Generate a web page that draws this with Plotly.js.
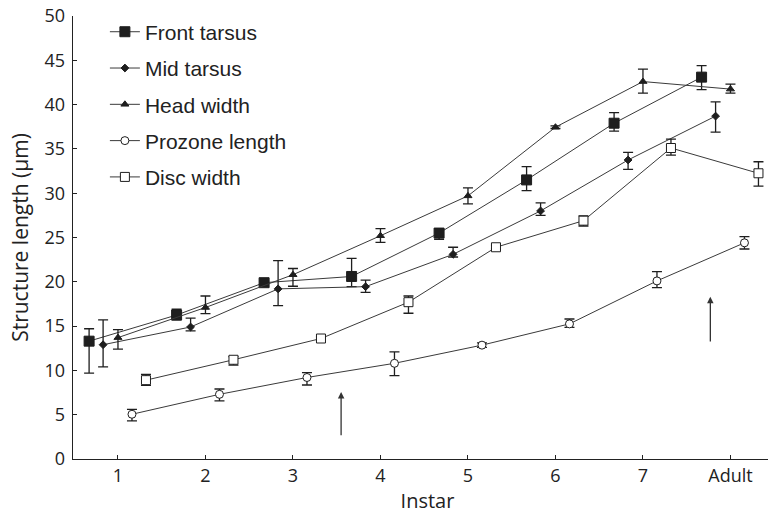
<!DOCTYPE html>
<html>
<head>
<meta charset="utf-8">
<script src="https://cdn.plot.ly/plotly-3.0.1.min.js"></script>
<style>html,body{margin:0;padding:0;background:#fff;overflow:hidden;}#wrap{width:768px;height:516px;overflow:hidden;}#chart{width:782px;height:516px;}</style>
</head>
<body>
<div id="wrap"><div id="chart"></div></div>
<script>
// Instar categories
const instarIndex = [1, 2, 3, 4, 5, 6, 7, 8];
const instarLabels = ["1", "2", "3", "4", "5", "6", "7", "Adult"];

// Series means (µm)
const frontTarsus = [13.3, 16.25, 19.9, 20.6, 25.5, 31.5, 37.9, 43.1];
const frontTarsusHi = [14.7, 16.9, 20.1, 22.65, 26.0, 33.0, 39.1, 44.4];
const frontTarsusLo = [9.7, 15.7, 19.7, 19.45, 24.8, 30.3, 37.0, 41.7];

const midTarsus = [12.9, 14.9, 19.2, 19.45, 23.1, 28.0, 33.75, 38.7];
const midTarsusHi = [15.7, 15.9, 22.4, 20.2, 23.9, 28.9, 34.6, 40.3];
const midTarsusLo = [10.4, 14.45, 17.3, 18.8, 22.8, 27.5, 32.7, 36.9];

const headWidth = [13.7, 17.1, 20.8, 25.2, 29.7, 37.45, 42.6, 41.75];
const headWidthHi = [14.6, 18.4, 21.5, 26.0, 30.6, 37.6, 44.0, 42.3];
const headWidthLo = [12.4, 16.4, 19.5, 24.45, 28.8, 37.3, 41.3, 41.3];

const prozoneLength = [5.05, 7.3, 9.2, 10.8, 12.85, 15.25, 20.1, 24.4];
const prozoneLengthHi = [5.6, 7.9, 9.75, 12.1, 13.1, 15.8, 21.15, 25.1];
const prozoneLengthLo = [4.3, 6.55, 8.35, 9.4, 12.6, 14.85, 19.35, 23.7];

const discWidth = [8.9, 11.2, 13.6, 17.7, 23.9, 26.9, 35.1, 32.25];
const discWidthHi = [9.55, 11.55, 13.8, 18.4, 24.1, 27.45, 36.1, 33.55];
const discWidthLo = [8.3, 10.6, 13.4, 16.45, 23.7, 26.3, 34.3, 30.8];

// Arrows (instar position, tail value, head value)
const arrowX = [3.55, 7.77];
const arrowTail = [2.5, 13.1];
const arrowHead = [7.55, 18.3];

const ink = '#1e1e1e';
const lineInk = '#3a3a3a';

function series(name, y, hi, lo, offset, symbol, size, fill) {
  return {
    type: 'scatter', mode: 'lines+markers', name: name, legendgroup: name,
    x: instarIndex.map(v => v + offset),
    y: y,
    error_y: {
      type: 'data', symmetric: false,
      array: hi.map((h, i) => +(h - y[i]).toFixed(3)),
      arrayminus: lo.map((l, i) => +(y[i] - l).toFixed(3)),
      color: ink, thickness: 1.3, width: 5
    },
    line: {color: lineInk, width: 1},
    marker: {symbol: symbol, size: size, color: fill, line: {color: ink, width: 1}}
  };
}

const data = [
  series('Front tarsus', frontTarsus, frontTarsusHi, frontTarsusLo, -0.33, 'square', 10, ink),
  series('Mid tarsus', midTarsus, midTarsusHi, midTarsusLo, -0.17, 'diamond', 6, ink),
  series('Head width', headWidth, headWidthHi, headWidthLo, 0, 'triangle-up', 7, ink),
  series('Prozone length', prozoneLength, prozoneLengthHi, prozoneLengthLo, 0.16, 'circle', 8, '#ffffff'),
  series('Disc width', discWidth, discWidthHi, discWidthLo, 0.32, 'square', 9, '#ffffff')
];

const annotations = arrowX.map((x, i) => ({
  x: x, y: arrowHead[i], ax: x, ay: arrowTail[i], axref: 'x', ayref: 'y', xref: 'x', yref: 'y',
  showarrow: true, arrowhead: 2, arrowsize: 1, arrowwidth: 1.3, arrowcolor: '#333', text: ''
}));

const layout = {
  width: 782, height: 516,
  margin: {l: 73, r: 0, t: 16, b: 57},
  paper_bgcolor: '#fff', plot_bgcolor: '#fff',
  showlegend: true,
  legend: {
    x: 0.045, y: 1.01, xanchor: 'left', yanchor: 'top',
    font: {family: 'Liberation Sans, Arial, sans-serif', size: 21, color: '#222'},
    tracegroupgap: 6, bgcolor: 'rgba(0,0,0,0)'
  },
  xaxis: {
    range: [0.486, 8.589], tickvals: instarIndex, ticktext: instarLabels,
    showline: true, linecolor: '#222', linewidth: 1.3, ticks: 'inside', ticklen: 4, tickcolor: '#222',
    showgrid: false, zeroline: false,
    tickfont: {family: 'Open Sans, sans-serif', size: 18, color: '#222'},
    title: {text: 'Instar', font: {family: 'Open Sans, sans-serif', size: 20, color: '#222'}, standoff: 8}
  },
  yaxis: {
    range: [0, 50], dtick: 5,
    showline: true, linecolor: '#222', linewidth: 1.3, ticks: 'inside', ticklen: 4, tickcolor: '#222',
    ticklabelstandoff: 3,
    showgrid: false, zeroline: false,
    tickfont: {family: 'Open Sans, sans-serif', size: 18, color: '#222'},
    title: {text: 'Structure length (µm)', font: {family: 'Open Sans, sans-serif', size: 21, color: '#222'}, standoff: 10}
  },
  annotations: annotations
};

Plotly.newPlot('chart', data, layout, {displayModeBar: false, staticPlot: true});
</script>
</body>
</html>
